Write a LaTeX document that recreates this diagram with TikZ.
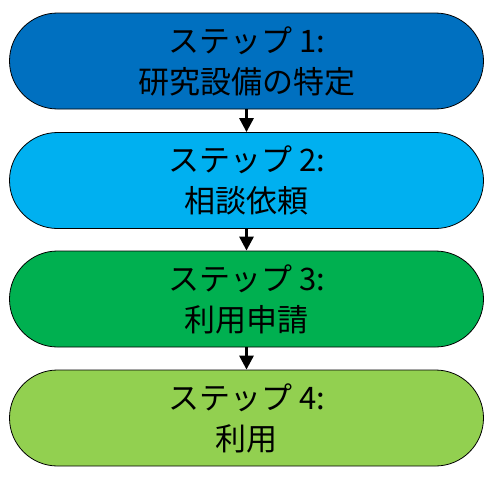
\documentclass[tikz,border=0pt]{standalone}
\usepackage{fontspec}
\setmainfont{Noto Sans CJK JP}
\usepackage{xcolor}
\usetikzlibrary{arrows.meta}
\definecolor{stepA}{HTML}{0070C0}
\definecolor{stepB}{HTML}{00B0F0}
\definecolor{stepC}{HTML}{00B050}
\definecolor{stepD}{HTML}{92D050}
\begin{document}
\begin{tikzpicture}[x=1pt,y=1pt,
  stage/.style={draw=black,line width=0.8pt,rounded corners=48pt,minimum width=474pt,minimum height=96pt,align=center,inner sep=0pt,font=\fontsize{31}{41}\selectfont},
  flow/.style={line width=3pt,-{Triangle[length=14pt,width=14pt]}}]
  \useasboundingbox (0,0) rectangle (493,-479);
  \node[stage,fill=stepA] (s1) at (246.5,-61) {ステップ 1:\\研究設備の特定};
  \node[stage,fill=stepB] (s2) at (246.5,-180.5) {ステップ 2:\\相談依頼};
  \node[stage,fill=stepC] (s3) at (246.5,-299) {ステップ 3:\\利用申請};
  \node[stage,fill=stepD] (s4) at (246.5,-418) {ステップ 4:\\利用};
  \draw[flow] (s1) -- (s2);
  \draw[flow] (s2) -- (s3);
  \draw[flow] (s3) -- (s4);
\end{tikzpicture}
\end{document}
